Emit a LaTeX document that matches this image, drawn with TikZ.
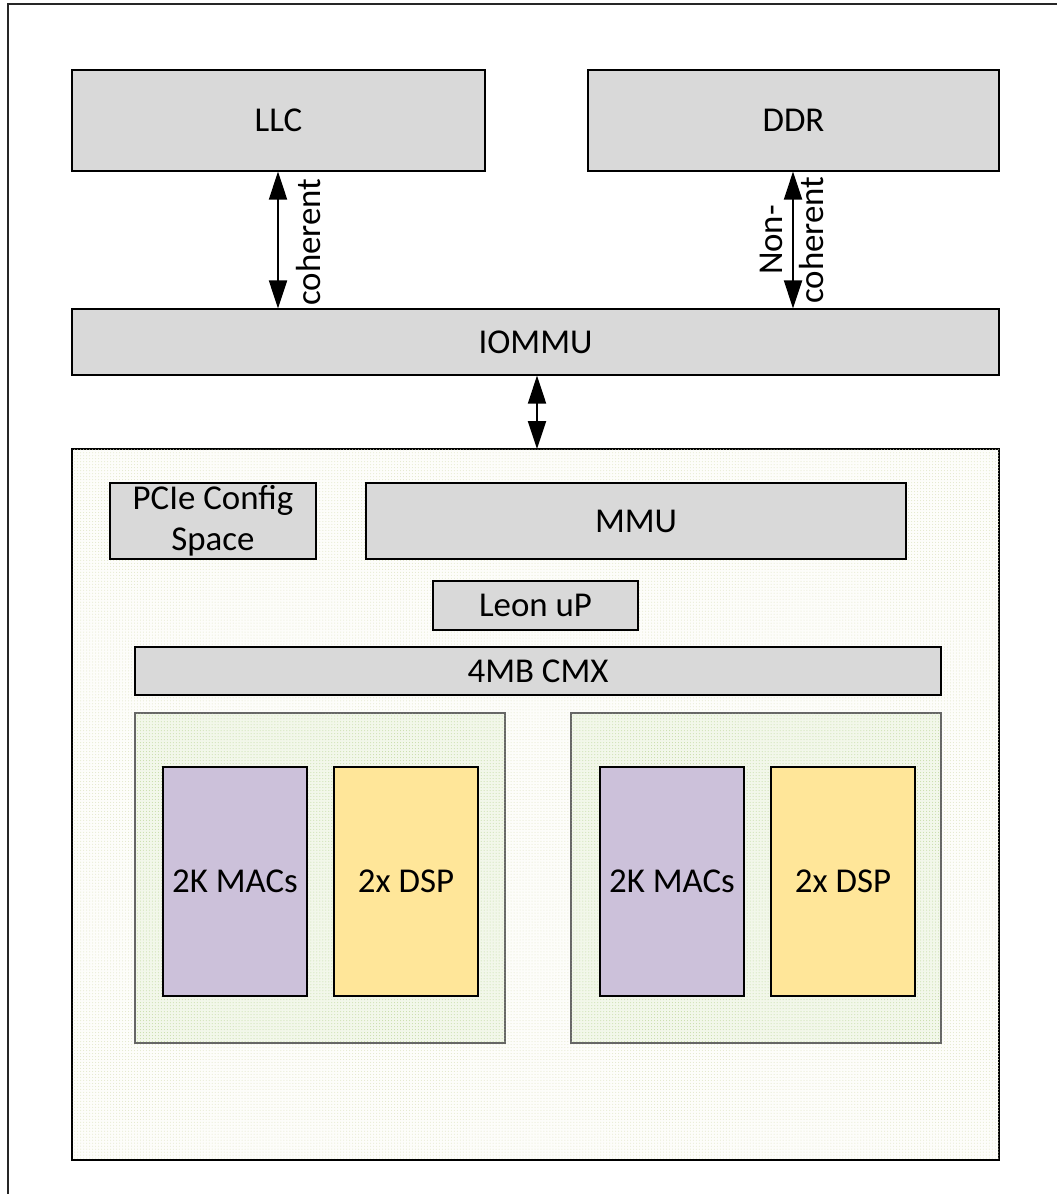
\documentclass[tikz,border=0pt]{standalone}
\usepackage{fontspec}
\setmainfont{Carlito}
\usepackage{tikz}
\usetikzlibrary{arrows.meta}
\usetikzlibrary{patterns}
\usetikzlibrary{positioning}
\definecolor{boxgray}{RGB}{217,217,217}
\definecolor{macpurple}{RGB}{204,193,218}
\definecolor{dspyellow}{RGB}{255,230,153}
\definecolor{chipfill}{RGB}{253,253,250}
\definecolor{chipdot}{RGB}{226,230,200}
\definecolor{clusterfill}{RGB}{242,247,234}
\definecolor{clusterdot}{RGB}{196,220,164}
\tikzset{
  unitbox/.style={draw=black, fill=boxgray, line width=1.2bp, inner sep=0pt,
    font=\fontsize{35}{41}\selectfont, align=center},
  macbox/.style={unitbox, fill=macpurple},
  dspbox/.style={unitbox, fill=dspyellow},
  bus/.style={{Triangle[length=28bp,width=18bp]}-{Triangle[length=28bp,width=18bp]}, line width=2bp},
  buslabel/.style={rotate=90, font=\fontsize{35}{41}\selectfont, align=center, inner sep=0pt}
}
\begin{document}
\begin{tikzpicture}[x=1bp,y=-1bp,line join=miter]
%%
\useasboundingbox (0,0) rectangle (1057,1194);
\draw [line width=2.5bp, draw=black!85] (8,1194) -- (8,4) -- (1057,4);
%% chip and clusters
\draw [line width=1.4bp, fill=chipfill, postaction={pattern=dots, pattern color=chipdot}] (72,449) rectangle (999,1160);
\draw [line width=1.6bp, draw=black!60, fill=clusterfill, postaction={pattern=dots, pattern color=clusterdot}] (135,713) rectangle (505,1043);
\draw [line width=1.6bp, draw=black!60, fill=clusterfill, postaction={pattern=dots, pattern color=clusterdot}] (571,713) rectangle (941,1043);
%%
  \node (llc) at (278.5,120.5) [unitbox, minimum width=413bp, minimum height=101bp] {LLC};
  \node (ddr) at (793.5,120.5) [unitbox, minimum width=411bp, minimum height=101bp] {DDR};
  \node (iommu) at (535.5,342) [unitbox, minimum width=927bp, minimum height=66bp] {IOMMU};
  \node (pcie) at (213,521) [unitbox, minimum width=206bp, minimum height=76bp] {PCIe Config\\Space};
  \node (mmu) at (636,521) [unitbox, minimum width=540bp, minimum height=76bp] {MMU};
  \node (leon) at (535.5,605.5) [unitbox, minimum width=205bp, minimum height=49bp] {Leon uP};
  \node (cmx) at (538,671) [unitbox, minimum width=806bp, minimum height=48bp] {4MB CMX};
  \node (mac_a) at (235,881.5) [macbox, minimum width=144bp, minimum height=229bp] {2K MACs};
  \node (dsp_a) at (406,881.5) [dspbox, minimum width=144bp, minimum height=229bp] {2x DSP};
  \node (mac_b) at (672,881.5) [macbox, minimum width=144bp, minimum height=229bp] {2K MACs};
  \node (dsp_b) at (843,881.5) [dspbox, minimum width=144bp, minimum height=229bp] {2x DSP};
%%
  \coordinate (chip_top) at (537,449);
  \draw [bus] (llc.south -| 278,0) -- (iommu.north -| 278,0);
  \node at (309,242) [buslabel] {coherent};
  \draw [bus] (ddr.south -| 793,0) -- (iommu.north -| 793,0);
  \node at (792,240) [buslabel] {Non-\\coherent};
  \draw [bus] (iommu.south -| chip_top) -- (chip_top);
%
\end{tikzpicture}
\end{document}
